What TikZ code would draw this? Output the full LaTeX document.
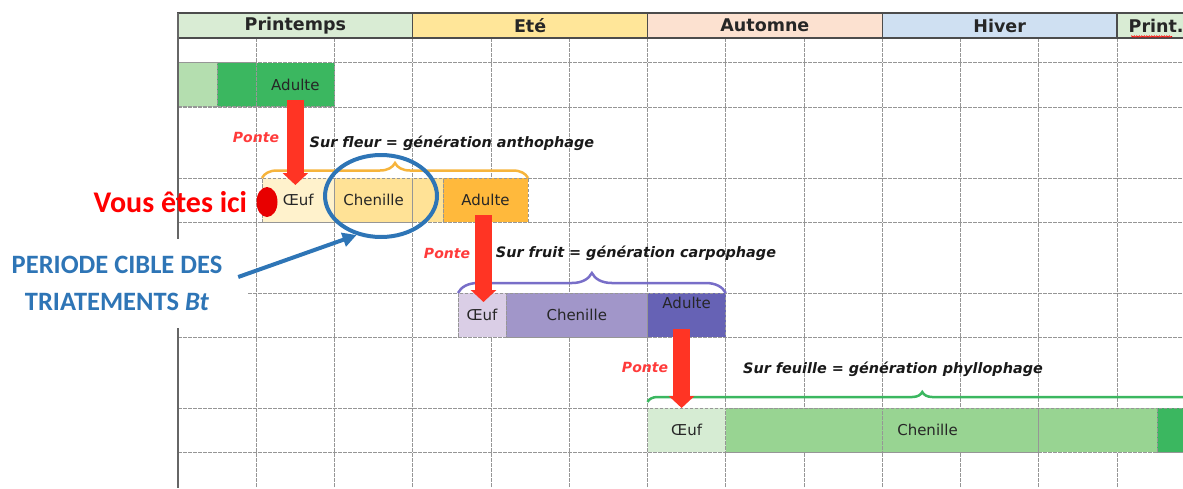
\documentclass[tikz,border=0pt]{standalone}
\usepackage{fontspec}
\setmainfont{DejaVu Sans}
\newfontfamily\calibri{Carlito}
\usetikzlibrary{positioning,shapes.geometric,arrows.meta,decorations.pathreplacing,decorations.pathmorphing}

\definecolor{vertPrint}{RGB}{217,236,212}
\definecolor{jauneEte}{RGB}{255,230,153}
\definecolor{roseAut}{RGB}{252,225,208}
\definecolor{bleuHiv}{RGB}{207,224,242}
\definecolor{vertFonce}{RGB}{59,183,96}
\definecolor{vertClair}{RGB}{180,222,175}
\definecolor{vertOeuf}{RGB}{214,236,211}
\definecolor{vertChen}{RGB}{152,212,146}
\definecolor{creme}{RGB}{255,242,204}
\definecolor{jauneChen}{RGB}{255,226,150}
\definecolor{orangeAd}{RGB}{255,185,60}
\definecolor{orangeAcc}{RGB}{246,180,60}
\definecolor{lavande}{RGB}{218,206,230}
\definecolor{violetChen}{RGB}{161,150,201}
\definecolor{violetAd}{RGB}{102,98,181}
\definecolor{violetAcc}{RGB}{120,110,200}
\definecolor{rougePonte}{RGB}{255,52,36}
\definecolor{rougeTexte}{RGB}{255,59,59}
\definecolor{rougeIci}{RGB}{232,0,0}
\definecolor{bleuBt}{RGB}{46,117,182}
\definecolor{grille}{RGB}{150,150,150}

\begin{document}
\begin{tikzpicture}[x=1pt,y=-1pt,font=\fontsize{15}{15}\selectfont,
  grille/.style={draw=grille,dash pattern=on 3.5pt off 1.5pt,line width=0.8pt},
  saison/.style={draw=black!70,line width=1.2pt,minimum height=25,inner sep=0,outer sep=0,
    font=\fontsize{17.5}{17.5}\selectfont\bfseries,text=black!85},
  case/.style={grille,minimum height=44,inner sep=0,outer sep=0,text=black!85},
  ponte/.style={draw=rougePonte,line width=17pt,-{Triangle[width=25pt,length=12pt]}},
  pontetxt/.style={font=\fontsize{14}{14}\selectfont\bfseries\itshape,text=rougeTexte},
  generation/.style={font=\fontsize{14.4}{14.4}\selectfont\bfseries\itshape,text=black!90},
  accolade/.style={decorate,line width=2.5pt}]

  \useasboundingbox (0,0) rectangle (1183,488);
  \clip (0,0) rectangle (1183,488);

  \foreach \x in {1,...,12}
    \draw[grille] (178+\x*78.25,38) -- (178+\x*78.25,488);
  \foreach \y in {62,107,178,222,293,337,408,452}
    \draw[grille] (178,\y) -- (1183,\y);

  \node[saison,fill=vertPrint,minimum width=234.75,anchor=west] (printemps) at (178,25.5) {Printemps};
  \node[saison,fill=jauneEte,minimum width=234.75,right=0pt of printemps] (ete) {Eté};
  \node[saison,fill=roseAut,minimum width=234.75,right=0pt of ete] (automne) {Automne};
  \node[saison,fill=bleuHiv,minimum width=234.75,right=0pt of automne] (hiver) {Hiver};
  \node[saison,fill=vertPrint,minimum width=78.25,right=0pt of hiver] (print) {Print.};
  \draw[red,line width=0.6pt,decorate,decoration={snake,amplitude=0.8pt,segment length=2.5pt}]
    (1131,36.5) -- (1172,36.5);

  \node[case,fill=vertClair,minimum width=39,anchor=west] (debut) at (178,84.5) {};
  \node[case,fill=vertFonce,minimum width=39.25,right=0pt of debut] (adulteA0) {};
  \node[case,fill=vertFonce,minimum width=78.25,right=0pt of adulteA0] (adulteA) {Adulte};

  \node[case,fill=creme,minimum width=72.5,anchor=west] (oeufA) at (262,200) {Œuf};
  \node[case,fill=jauneChen,minimum width=78.25,right=0pt of oeufA] (chenA) {Chenille};
  \node[case,fill=jauneChen,minimum width=30.25,right=0pt of chenA] (chenA2) {};
  \node[case,fill=orangeAd,minimum width=85,right=0pt of chenA2] (adulteB) {Adulte};

  \node[case,fill=lavande,minimum width=48,anchor=west] (oeufB) at (458,315) {Œuf};
  \node[case,fill=violetChen,minimum width=141.5,right=0pt of oeufB] (chenB) {Chenille};
  \node[case,fill=violetAd,minimum width=78.25,right=0pt of chenB,
    label={[yshift=12pt,text=black!85]center:Adulte}] (adulteC) {};

  \node[case,fill=vertOeuf,minimum width=78.25,anchor=west] (oeufC) at (647.5,430) {Œuf};
  \node[case,fill=vertChen,minimum width=156.5,right=0pt of oeufC] (chenC1) {};
  \node[case,fill=vertChen,minimum width=156.5,right=0pt of chenC1,
    label={[xshift=-33pt,text=black!85]center:Chenille}] (chenC2) {};
  \node[case,fill=vertChen,minimum width=118.25,right=0pt of chenC2] (chenC3) {};
  \node[case,fill=vertFonce,minimum width=43,right=0pt of chenC3] (fin) {};

  \draw[line width=1.5pt,black!60] (178,13) -- (178,488);

  \coordinate (finVert) at (1197,402);
  \draw[accolade,draw=orangeAcc,decoration={brace,amplitude=15pt}] (oeufA.north west) -- (adulteB.north east);
  \draw[accolade,draw=violetAcc,decoration={brace,amplitude=20pt}] (oeufB.north west) -- (adulteC.north east);
  \draw[accolade,draw=vertFonce,decoration={brace,amplitude=10pt}] ([yshift=6pt]oeufC.north west) -- (finVert);

  \draw[ponte] ([yshift=7pt]adulteA.south) -- ([yshift=-7pt]adulteA.south |- oeufA.north);
  \draw[ponte] ([xshift=-2pt,yshift=7pt]adulteB.south) -- ([xshift=-2pt,yshift=-9pt]adulteB.south |- oeufB.north);
  \draw[ponte] ([xshift=-5pt,yshift=8pt]adulteC.south) -- ([xshift=-5pt]adulteC.south |- oeufC.north);

  \node[pontetxt] (ponteA) at (256,137) {Ponte};
  \node[pontetxt] (ponteB) at (447,253) {Ponte};
  \node[pontetxt] (ponteC) at (645,367) {Ponte};
  \node[generation] (fleur) at (452,143) {Sur fleur = génération anthophage};
  \node[generation] (fruit) at (636,253) {Sur fruit = génération carpophage};
  \node[generation] (feuille) at (893,369) {Sur feuille = génération phyllophage};

  \node[ellipse,fill=rougeIci,minimum width=21,minimum height=30,inner sep=0] (ici) at (267,202) {};
  \node[left=9pt of ici,inner sep=0,font=\calibri\bfseries\fontsize{30}{30}\selectfont,text=red] (vous) {Vous êtes ici};

  \node[ellipse,draw=bleuBt,line width=4pt,minimum width=112,minimum height=82,inner sep=0] (cible) at (381,196) {};
  \node[fill=white,inner sep=0,minimum width=260,minimum height=89,align=center,
    font=\calibri\bfseries\fontsize{26.5}{37}\selectfont,text=bleuBt] (periode) at (117,283)
    {PERIODE CIBLE DES\\TRIATEMENTS \textit{Bt}};
  \draw[draw=bleuBt,line width=4pt,-{Triangle[width=14pt,length=14pt]}]
    ([xshift=-9pt,yshift=6pt]periode.east) -- (cible.238);

\end{tikzpicture}
\end{document}
